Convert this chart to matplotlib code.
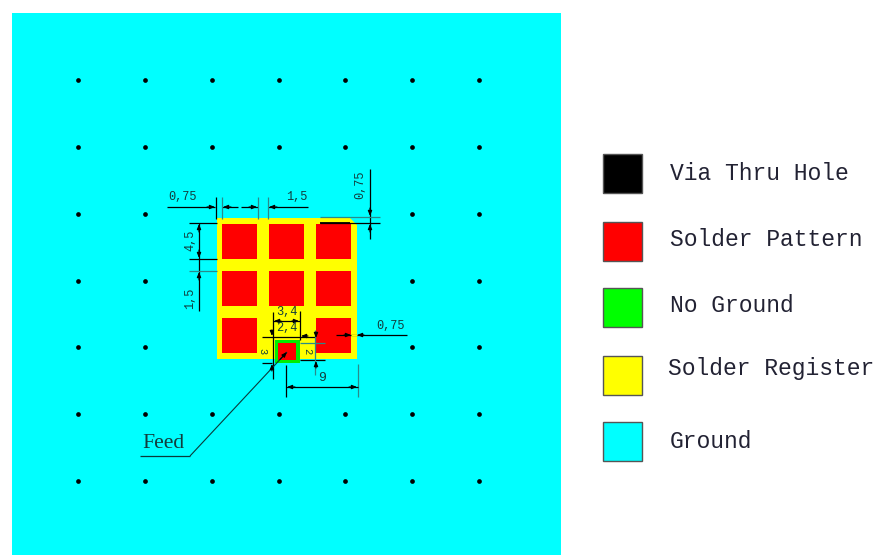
import matplotlib
matplotlib.use('Agg')
import matplotlib.pyplot as plt
from matplotlib.patches import Rectangle, Polygon

# Todo en pixeles de la imagen original
W, H = 879, 555

via_x = [78, 145, 212, 279, 345, 412, 479]
via_y = [80, 147, 214, 281, 347, 414, 481]
hidden_vias = [(212, 214), (279, 214), (345, 214), (212, 281), (279, 281), (345, 281),
               (212, 347), (279, 347), (345, 347)]

pad_x = [(222, 257), (269, 304), (316, 351)]
pad_y = [(224, 259), (271, 306), (318, 353)]
missing_pad = (1, 2)  # columna, fila

legend_labels = ['Via Thru Hole', 'Solder Pattern', 'No Ground', 'Solder Register', 'Ground']
legend_colors = ['#000000', '#ff0000', '#00ff00', '#ffff00', '#00ffff']
legend_box_y = [154, 222, 288, 356, 422]
legend_text_x = [670, 670, 670, 668, 670]
legend_text_y = [173, 240, 306, 369, 441]

fig = plt.figure(figsize=(W / 100, H / 100), dpi=100)
ax = fig.add_axes([0, 0, 1, 1])
ax.set_xlim(0, W)
ax.set_ylim(H, 0)
ax.axis('off')

DIM = '#0a3a3a'
TEAL = '#2a8a8a'
MONO = ['Liberation Mono', 'DejaVu Sans Mono']


def box(x0, y0, x1, y1, color):
    ax.add_patch(Rectangle((x0, y0), x1 - x0, y1 - y0, facecolor=color, edgecolor='none'))


def seg(x0, y0, x1, y1, color='black', lw=0.9):
    ax.plot([x0, x1], [y0, y1], color=color, lw=lw, solid_capstyle='butt')


def arrow(x, y, dx, dy):
    # punta de cota pequeña, la cola viene de (x+dx, y+dy)
    ax.annotate('', xy=(x, y), xytext=(x + dx, y + dy),
                arrowprops=dict(arrowstyle='-|>,head_width=0.12,head_length=0.3', color='black', lw=0.8,
                                shrinkA=0, shrinkB=0))


def label(x, y, s, size=8.6, rotation=0, color='#123c3c'):
    ax.text(x, y, s, fontsize=size, rotation=rotation, ha='center', va='center', color=color, family=MONO)


# Plano de masa
box(12, 13, 561, 555, '#00ffff')

# Vias
for vy in via_y:
    for vx in via_x:
        if (vx, vy) not in hidden_vias:
            ax.plot(vx, vy, 'o', color='black', ms=3.4, mew=0)

# Registro de soldadura con la esquina recortada
ax.add_patch(Polygon([(217, 218), (350, 218), (357, 225), (357, 359), (217, 359)],
                     facecolor='#ffff00', edgecolor='none'))

# Pads
for j, (y0, y1) in enumerate(pad_y):
    for i, (x0, x1) in enumerate(pad_x):
        if (i, j) != missing_pad:
            box(x0, y0, x1, y1, '#ff0000')

# Alimentacion
box(275, 340, 300, 363, '#00ee00')
box(278, 343, 296, 360, '#ff0000')

# Cotas superiores
seg(167, 207, 215, 207)
seg(222, 207, 238, 207)
seg(241, 207, 258, 207)
seg(268, 207, 308, 207)
seg(216, 197, 216, 219)
seg(222, 197, 222, 219, color=TEAL)
seg(258, 197, 258, 219, color=TEAL)
seg(268, 197, 268, 219, color=TEAL)
arrow(215, 207, -8, 0)
arrow(223, 207, 8, 0)
arrow(257, 207, -8, 0)
arrow(269, 207, 8, 0)
label(183, 197, '0,75')
label(297, 197, '1,5')

# Cota derecha
seg(370, 169, 370, 239)
seg(320, 217, 380, 217, color=TEAL)
seg(320, 223, 380, 223)
seg(320, 223, 350, 223, lw=1.3)
arrow(370, 216, 0, -8)
arrow(370, 224, 0, 8)
label(360, 185, '0,75', rotation=90)

# Cotas izquierdas
seg(199, 223, 199, 311)
seg(189, 223, 217, 223)
seg(189, 259, 217, 259)
seg(189, 271, 217, 271, color=TEAL)
arrow(199, 224, 0, 8)
arrow(199, 258, 0, -8)
arrow(199, 272, 0, 8)
label(190, 240, '4,5', rotation=90)
label(190, 298, '1,5', rotation=90)

# Cotas del feed
seg(273, 312, 273, 379)
seg(300, 311, 300, 340)
seg(273, 321, 300, 321)
seg(262, 337, 315, 337)
seg(300, 343, 325, 343, color=TEAL)
seg(262, 363, 272, 363)
seg(300, 360, 325, 360)
seg(315, 330, 315, 375, color=TEAL)
arrow(274, 321, 7, 0)
arrow(299, 321, -7, 0)
arrow(272, 336, -0.1, -6)
arrow(272, 364, -0.1, 7)
arrow(316, 338, 0, -6)
arrow(316, 361, 0, 7)
arrow(301, 336, 7, 0)
label(287, 312, '3,4')
label(287, 328, '2,4')
label(262, 351, '3', size=7.5, rotation=-90)
label(307, 351, '2', size=7.5, rotation=-90)

# Cota 9
seg(286, 365, 286, 397)
seg(358, 364, 358, 397, color=TEAL)
seg(286, 387, 358, 387)
arrow(287, 387, 8, 0)
arrow(357, 387, -8, 0)
label(322, 378, '9', size=9.5)

# Cota 0,75 derecha
seg(336, 335, 407, 335)
arrow(351, 335, -7, 0)
arrow(357, 335, 7, 0)
seg(351, 335, 357, 335, color='#ffff00', lw=1.0)
label(391, 326, '0,75')

# Etiqueta Feed
seg(140, 456, 190, 456, color=DIM)
seg(190, 456, 287, 352, color=DIM, lw=0.8)
arrow(287, 352, -7, 7.5)
ax.text(163, 443, 'Feed', fontsize=15.6, ha='center', va='center', color='#123c3c', family='Liberation Serif')

# Leyenda
for name, color, by, tx, ty in zip(legend_labels, legend_colors, legend_box_y, legend_text_x, legend_text_y):
    ax.add_patch(Rectangle((603, by), 39, 39, facecolor=color, edgecolor='#555555', lw=1.0))
    ax.text(tx, ty, name, fontsize=16.6, ha='left', va='center', color='#222233', family=MONO)

fig.savefig('out.png', dpi=100)
plt.close()
